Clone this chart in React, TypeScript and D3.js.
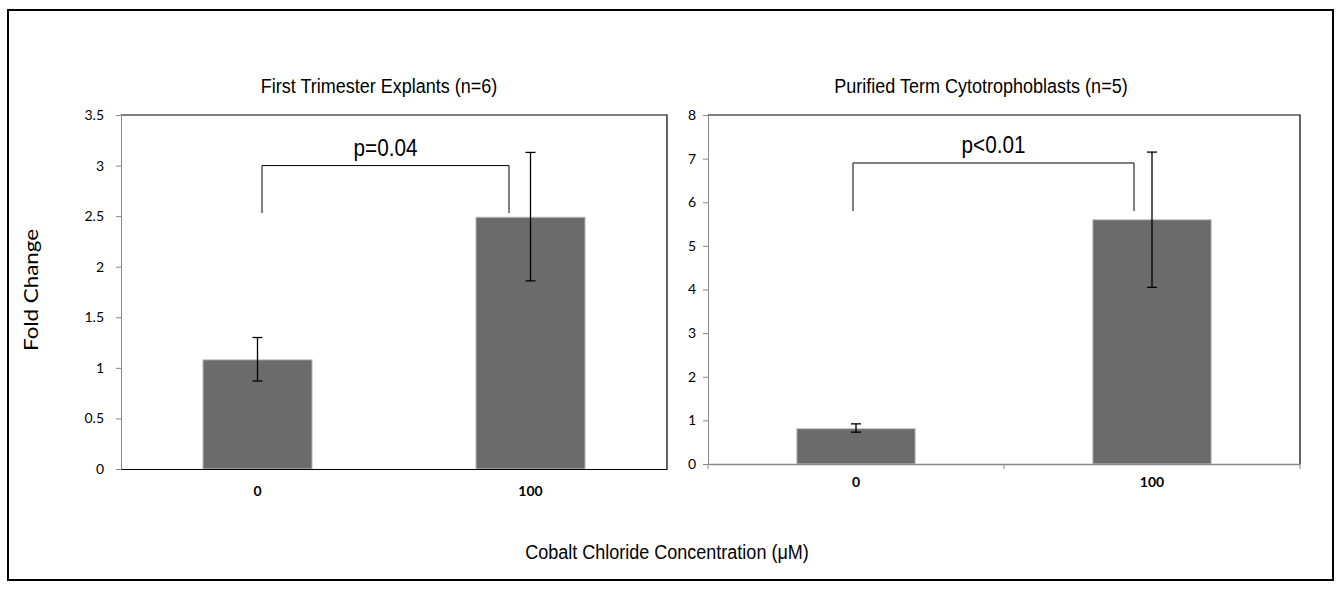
import React, { useEffect, useRef } from 'react';
import * as d3 from 'd3';

// categories (cobalt chloride, µM)
const categories = ['0', '100'];

// first trimester explants
const explantMeans = [1.08, 2.49];
const explantLow = [0.87, 1.86];
const explantHigh = [1.3, 3.13];
const explantTicks = [0, 0.5, 1, 1.5, 2, 2.5, 3, 3.5];

// purified term cytotrophoblasts
const ctbMeans = [0.81, 5.6];
const ctbLow = [0.73, 4.05];
const ctbHigh = [0.92, 7.15];
const ctbTicks = [0, 1, 2, 3, 4, 5, 6, 7, 8];

const panels = [
  {
    title: 'First Trimester Explants (n=6)', titleX: 379, means: explantMeans, low: explantLow, high: explantHigh,
    ticks: explantTicks, max: 3.5, left: 121, right: 667, top: 115, bottom: 469,
    p: 'p=0.04', bracketY: 3.0, legY: 2.53, legX: [262, 509], xTicks: false,
  },
  {
    title: 'Purified Term Cytotrophoblasts (n=5)', titleX: 981, means: ctbMeans, low: ctbLow, high: ctbHigh,
    ticks: ctbTicks, max: 8, left: 708, right: 1300, top: 115, bottom: 464,
    p: 'p<0.01', bracketY: 6.9, legY: 5.8, legX: [853, 1134], xTicks: true,
  },
];

const tickFont = 'Lato, "Open Sans", sans-serif';
const textFont = '"Liberation Sans", Arial, sans-serif';

// slightly narrowed Arial-like text, as in the original figure
function narrowText(sel: d3.Selection<SVGTextElement, unknown, null, undefined>, size: number) {
  sel.attr('font-family', textFont).attr('font-size', size).attr('text-anchor', 'middle');
  const w = (sel.node() as SVGTextElement).getComputedTextLength();
  sel.attr('textLength', w * 0.9).attr('lengthAdjust', 'spacingAndGlyphs');
}

function App() {
  const svgRef = useRef<SVGSVGElement>(null);

  useEffect(() => {
    const svg = d3.select(svgRef.current);
    svg.selectAll('*').remove();

    // outer frame
    svg.append('rect')
      .attr('x', 8).attr('y', 10).attr('width', 1325).attr('height', 570)
      .attr('fill', 'white').attr('stroke', '#000').attr('stroke-width', 2);

    panels.forEach(pn => {
      const x = d3.scaleBand().domain(categories).range([pn.left, pn.right]).paddingInner(0.6).paddingOuter(0.3);
      const band = d3.scaleBand().domain(categories).range([pn.left, pn.right]);
      const y = d3.scaleLinear().domain([0, pn.max]).range([pn.bottom, pn.top]);
      const g = svg.append('g');

      // plot frame (top/right black)
      g.append('path')
        .attr('d', `M${pn.left},${pn.top}H${pn.right}V${pn.bottom}`)
        .attr('fill', 'none').attr('stroke', '#000').attr('stroke-width', 1.2);

      // y axis
      const ya = g.append('g').attr('transform', `translate(${pn.left},0)`)
        .call(d3.axisLeft(y).tickValues(pn.ticks).tickSize(5).tickFormat(d => String(d)));
      ya.attr('font-size', null).attr('font-family', null);
      ya.select('.domain').attr('stroke', '#888');
      ya.selectAll('.tick line').attr('stroke', '#888');
      ya.selectAll('.tick text').attr('font-family', tickFont).attr('font-size', 14)
        .attr('fill', '#000').attr('x', pn.xTicks ? -12 : -17);

      // bars
      g.selectAll('rect.bar').data(pn.means).enter().append('rect')
        .attr('x', (_, i) => x(categories[i])!)
        .attr('width', x.bandwidth())
        .attr('y', d => y(d))
        .attr('height', d => y(0) - y(d))
        .attr('fill', '#6b6b6b')
        .attr('stroke', '#c8c8c8').attr('stroke-width', 1);

      // error bars
      const cx = (i: number) => x(categories[i])! + x.bandwidth() / 2;
      categories.forEach((_, i) => {
        g.append('line').attr('x1', cx(i)).attr('x2', cx(i))
          .attr('y1', y(pn.low[i])).attr('y2', y(pn.high[i]))
          .attr('stroke', '#000').attr('stroke-width', 1.3);
        [pn.low[i], pn.high[i]].forEach(v => {
          g.append('line').attr('x1', cx(i) - 5).attr('x2', cx(i) + 5)
            .attr('y1', y(v)).attr('y2', y(v)).attr('stroke', '#000').attr('stroke-width', 1.3);
        });
      });

      // x axis
      const xa = g.append('g').attr('transform', `translate(0,${pn.bottom})`)
        .call(d3.axisBottom(band).tickSize(0));
      xa.attr('font-size', null).attr('font-family', null);
      xa.select('.domain').attr('stroke', pn.xTicks ? '#888' : '#000').attr('stroke-width', pn.xTicks ? 1.5 : 1.2);
      xa.selectAll('.tick text').attr('font-family', tickFont).attr('font-size', 14)
        .attr('font-weight', 'bold').attr('fill', '#000').attr('dy', pn.xTicks ? 20 : 24);
      if (pn.xTicks) {
        [pn.left, (pn.left + pn.right) / 2, pn.right].forEach(tx => {
          g.append('line').attr('x1', tx).attr('x2', tx).attr('y1', pn.bottom).attr('y2', pn.bottom + 5)
            .attr('stroke', '#888');
        });
      }

      // significance bracket
      const [l, r] = pn.legX;
      g.append('path')
        .attr('d', `M${l},${y(pn.legY)}V${y(pn.bracketY)}H${r}V${y(pn.legY)}`)
        .attr('fill', 'none').attr('stroke', '#000').attr('stroke-width', 1);
      narrowText(g.append('text').attr('x', (l + r) / 2).attr('y', y(pn.bracketY) - 10).text(pn.p), 23);

      // title
      narrowText(g.append('text').attr('x', pn.titleX).attr('y', 93).text(pn.title), 20);
    });

    svg.append('text')
      .attr('transform', 'translate(38,290) rotate(-90)')
      .attr('text-anchor', 'middle').attr('font-family', tickFont).attr('font-size', 20)
      .attr('textLength', 122).attr('lengthAdjust', 'spacingAndGlyphs').text('Fold Change');

    narrowText(svg.append('text').attr('x', 667).attr('y', 559).text('Cobalt Chloride Concentration (μM)'), 20);
  }, []);

  return (
    <div style={{ position: 'absolute', left: 0, top: 0 }}>
      <svg ref={svgRef} width={1340} height={596} style={{ display: 'block', background: 'white' }}></svg>
    </div>
  );
}

export default App;
